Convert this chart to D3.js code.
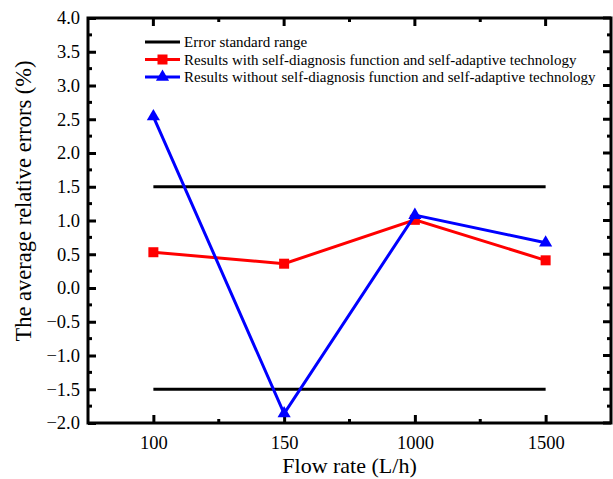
<!DOCTYPE html>
<html>
<head>
<meta charset="utf-8">
<script src="https://cdn.jsdelivr.net/npm/d3@7"></script>
<style>
  body { margin: 0; background: #fff; }
  text { font-family: "Liberation Serif", "Times New Roman", serif; }
</style>
</head>
<body>
<svg id="chart" width="613" height="479"></svg>
<script>
// categories on the x axis
const flowRates = ["100", "150", "1000", "1500"];
// error standard range (upper/lower bounds)
const stdUpper = [1.5, 1.5, 1.5, 1.5];
const stdLower = [-1.5, -1.5, -1.5, -1.5];
// with self-diagnosis / self-adaptive
const withSelf = [0.53, 0.36, 1.01, 0.41];
// without
const withoutSelf = [2.54, -1.86, 1.08, 0.67];
const yTicks = [-2.0, -1.5, -1.0, -0.5, 0.0, 0.5, 1.0, 1.5, 2.0, 2.5, 3.0, 3.5, 4.0];
const legendLabels = [
  "Error standard range",
  "Results with self-diagnosis function and self-adaptive technology",
  "Results without self-diagnosis function and self-adaptive technology"
];

const M = {left: 88, right: 611, top: 18, bottom: 423};
const svg = d3.select("#chart");

// x is a linear index scale: category i sits at i+1, frame spans 0.5..4.5
const x = d3.scaleLinear().domain([0.5, 4.5]).range([M.left, M.right]);
const y = d3.scaleLinear().domain([-2, 4]).range([M.bottom, M.top]);

const g = svg.append("g");

// left axis, major ticks inside + minor ticks
const yMinor = d3.range(-1.75, 4, 0.5);
g.append("g")
  .attr("transform", `translate(${M.left},0)`)
  .call(d3.axisLeft(y).tickValues(yTicks).tickFormat(d3.format(".1f")).tickSizeInner(-8).tickSizeOuter(0).tickPadding(8))
  .call(a => a.select(".domain").remove())
  .call(a => a.selectAll("line").attr("stroke-width", 3))
  .call(a => a.selectAll("text").attr("font-size", 18.5).attr("fill", "#000"));
g.append("g")
  .selectAll("line").data(yMinor).join("line")
  .attr("x1", M.left).attr("x2", M.left + 4)
  .attr("y1", d => y(d)).attr("y2", d => y(d))
  .attr("stroke", "#000").attr("stroke-width", 3);

// right axis mirror ticks
g.append("g")
  .selectAll("line").data(yTicks.concat(yMinor)).join("line")
  .attr("x1", M.right).attr("x2", d => M.right - (yMinor.includes(d) ? 4 : 8))
  .attr("y1", d => y(d)).attr("y2", d => y(d))
  .attr("stroke", "#000").attr("stroke-width", 3);

// bottom axis
const xMajor = [1, 2, 3, 4];
const xMinor = [1.5, 2.5, 3.5];
g.append("g")
  .attr("transform", `translate(0,${M.bottom})`)
  .call(d3.axisBottom(x).tickValues(xMajor).tickFormat((d, i) => flowRates[i]).tickSizeInner(-8).tickSizeOuter(0).tickPadding(13))
  .call(a => a.select(".domain").remove())
  .call(a => a.selectAll("line").attr("stroke-width", 3))
  .call(a => a.selectAll("text").attr("font-size", 18.5).attr("fill", "#000"));
g.append("g")
  .selectAll("line").data(xMinor).join("line")
  .attr("x1", d => x(d)).attr("x2", d => x(d))
  .attr("y1", M.bottom).attr("y2", M.bottom - 4)
  .attr("stroke", "#000").attr("stroke-width", 3);

// top mirror ticks
g.append("g")
  .selectAll("line").data(xMajor.concat(xMinor)).join("line")
  .attr("x1", d => x(d)).attr("x2", d => x(d))
  .attr("y1", M.top).attr("y2", d => M.top + (xMinor.includes(d) ? 4 : 8))
  .attr("stroke", "#000").attr("stroke-width", 3);

// frame
g.append("rect")
  .attr("x", M.left).attr("y", M.top)
  .attr("width", M.right - M.left).attr("height", M.bottom - M.top)
  .attr("fill", "none").attr("stroke", "#000").attr("stroke-width", 3);

// axis titles
svg.append("text")
  .attr("x", (M.left + M.right) / 2).attr("y", 473)
  .attr("text-anchor", "middle").attr("font-size", 22)
  .text("Flow rate (L/h)");
svg.append("text")
  .attr("transform", `translate(31,201) rotate(-90)`)
  .attr("text-anchor", "middle").attr("font-size", 22.5)
  .text("The average relative errors (%)");

const line = d3.line().x((d, i) => x(i + 1)).y(d => y(d));

// error standard range
[stdUpper, stdLower].forEach(s => {
  g.append("path").datum(s).attr("d", line)
    .attr("fill", "none").attr("stroke", "#000").attr("stroke-width", 3);
});

// red series
g.append("path").datum(withSelf).attr("d", line)
  .attr("fill", "none").attr("stroke", "#ff0000").attr("stroke-width", 3);
g.append("g").selectAll("rect").data(withSelf).join("rect")
  .attr("x", (d, i) => x(i + 1) - 5).attr("y", d => y(d) - 5)
  .attr("width", 10).attr("height", 10).attr("fill", "#ff0000");

// blue series
const tri = d3.symbol().type(d3.symbolTriangle).size(75);
g.append("path").datum(withoutSelf).attr("d", line)
  .attr("fill", "none").attr("stroke", "#0000ff").attr("stroke-width", 3);
g.append("g").selectAll("path").data(withoutSelf).join("path")
  .attr("d", tri)
  .attr("transform", (d, i) => `translate(${x(i + 1)},${y(d)})`)
  .attr("fill", "#0000ff");

// legend
const legend = svg.append("g");
const lgY = [42, 59.5, 77];
const lgColors = ["#000", "#ff0000", "#0000ff"];
legendLabels.forEach((t, i) => {
  legend.append("line")
    .attr("x1", 145).attr("x2", 180).attr("y1", lgY[i]).attr("y2", lgY[i])
    .attr("stroke", lgColors[i]).attr("stroke-width", 3);
  if (i === 1) {
    legend.append("rect").attr("x", 157.5).attr("y", lgY[i] - 5).attr("width", 10).attr("height", 10).attr("fill", lgColors[i]);
  } else if (i === 2) {
    legend.append("path").attr("d", tri).attr("transform", `translate(162.5,${lgY[i]})`).attr("fill", lgColors[i]);
  }
  legend.append("text")
    .attr("x", 184).attr("y", lgY[i] + 5)
    .attr("font-size", 15)
    .text(t);
});
</script>
</body>
</html>
